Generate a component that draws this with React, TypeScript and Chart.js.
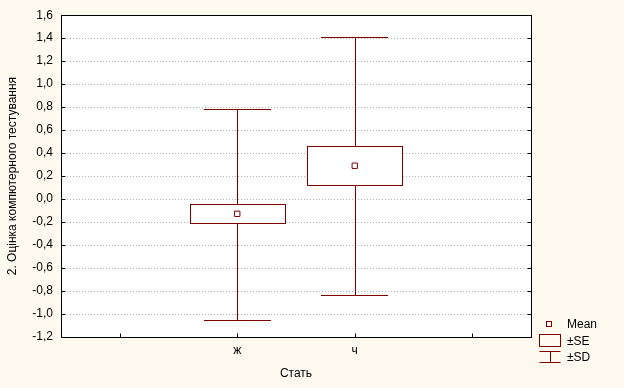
import React, { useEffect, useRef } from "react";
import { Chart, registerables } from "chart.js";
Chart.register(...registerables);

// ---- data ----
const categories = ["ж", "ч"];
const means = [-0.128, 0.29];
const seLow = [-0.211, 0.122];
const seHigh = [-0.045, 0.458];
const sdLow = [-1.048, -0.833];
const sdHigh = [0.787, 1.406];
const yTickValues = [-1.2, -1.0, -0.8, -0.6, -0.4, -0.2, 0.0, 0.2, 0.4, 0.6, 0.8, 1.0, 1.2, 1.4, 1.6];
const xTickValues = [-1, 0, 1, 2];
const legendLabels = ["Mean", "±SE", "±SD"];

const FONT = "'Liberation Sans', Arial, sans-serif";
const RED = "#800000";
const BG = "#FFFAF0";
const BOX_HALF = 0.405;
const CAP_HALF = 0.284;

const boxPlugin = {
  id: "boxPlugin",
  beforeDraw(chart: any) {
    const { ctx, chartArea: a } = chart;
    ctx.save();
    ctx.fillStyle = BG;
    ctx.fillRect(0, 0, chart.width, chart.height);
    ctx.fillStyle = "#ffffff";
    ctx.fillRect(a.left, a.top, a.right - a.left, a.bottom - a.top);
    ctx.restore();
  },
  beforeDatasetsDraw(chart: any) {
    const { ctx, chartArea: a, scales } = chart;
    const xs = scales.x;
    const ys = scales.y;
    ctx.save();
    // dotted grid
    ctx.strokeStyle = "#b4b4b4";
    ctx.lineWidth = 1;
    ctx.setLineDash([1, 2]);
    yTickValues.forEach((v) => {
      if (v === yTickValues[0] || v === yTickValues[yTickValues.length - 1]) return;
      const y = Math.round(ys.getPixelForValue(v)) + 0.5;
      ctx.beginPath();
      ctx.moveTo(a.left, y);
      ctx.lineTo(a.right, y);
      ctx.stroke();
    });
    ctx.setLineDash([]);
    // whiskers and boxes
    ctx.strokeStyle = RED;
    categories.forEach((_, i) => {
      const cx = Math.round(xs.getPixelForValue(i)) + 0.5;
      const capL = Math.round(xs.getPixelForValue(i - CAP_HALF));
      const capR = Math.round(xs.getPixelForValue(i + CAP_HALF));
      const yHi = Math.round(ys.getPixelForValue(sdHigh[i])) + 0.5;
      const yLo = Math.round(ys.getPixelForValue(sdLow[i])) + 0.5;
      ctx.beginPath();
      ctx.moveTo(cx, yHi);
      ctx.lineTo(cx, yLo);
      ctx.moveTo(capL, yHi);
      ctx.lineTo(capR, yHi);
      ctx.moveTo(capL, yLo);
      ctx.lineTo(capR, yLo);
      ctx.stroke();
      const bl = Math.round(xs.getPixelForValue(i - BOX_HALF)) + 0.5;
      const br = Math.round(xs.getPixelForValue(i + BOX_HALF)) + 0.5;
      const bt = Math.round(ys.getPixelForValue(seHigh[i])) + 0.5;
      const bb = Math.round(ys.getPixelForValue(seLow[i])) + 0.5;
      ctx.fillStyle = "#ffffff";
      ctx.fillRect(bl, bt, br - bl, bb - bt);
      ctx.strokeRect(bl, bt, br - bl, bb - bt);
    });
    ctx.restore();
  },
  afterDatasetsDraw(chart: any) {
    const { ctx, chartArea: a, scales } = chart;
    const xs = scales.x;
    const ys = scales.y;
    ctx.save();
    ctx.strokeStyle = "#000000";
    ctx.lineWidth = 1;
    const L = Math.round(a.left) + 0.5;
    const R = Math.round(a.right) + 0.5;
    const T = Math.round(a.top) + 0.5;
    const B = Math.round(a.bottom) + 0.5;
    ctx.strokeRect(L, T, R - L, B - T);
    ctx.beginPath();
    yTickValues.forEach((v) => {
      const y = Math.round(ys.getPixelForValue(v)) + 0.5;
      ctx.moveTo(L, y);
      ctx.lineTo(L + 4, y);
      ctx.moveTo(R, y);
      ctx.lineTo(R - 4, y);
    });
    xTickValues.forEach((v) => {
      const x = Math.round(xs.getPixelForValue(v)) + 0.5;
      ctx.moveTo(x, B);
      ctx.lineTo(x, B - 4);
    });
    ctx.stroke();

    // legend
    const lx = 539.5;
    const lw = 21;
    const tx = 567;
    ctx.strokeStyle = RED;
    ctx.fillStyle = "#ffffff";
    // mean marker
    ctx.fillRect(546.5, 321.5, 5, 5);
    ctx.strokeRect(546.5, 321.5, 5, 5);
    // SE box
    ctx.strokeRect(lx, 334.5, lw, 12);
    // SD symbol
    ctx.beginPath();
    ctx.moveTo(lx, 351.5);
    ctx.lineTo(lx + lw, 351.5);
    ctx.moveTo(550.5, 351.5);
    ctx.lineTo(550.5, 362.5);
    ctx.moveTo(lx, 362.5);
    ctx.lineTo(lx + lw, 362.5);
    ctx.stroke();
    ctx.fillStyle = "#000000";
    ctx.font = `12px ${FONT}`;
    ctx.textAlign = "left";
    ctx.textBaseline = "middle";
    ctx.fillText(legendLabels[0], tx, 324.5);
    ctx.fillText(legendLabels[1], tx, 341.5);
    ctx.fillText(legendLabels[2], tx, 357.5);
    ctx.restore();
  },
};

export default function App() {
  const ref = useRef<HTMLCanvasElement | null>(null);
  useEffect(() => {
    document.body.style.margin = "0";
    const canvas = ref.current!;
    const chart = new Chart(canvas, {
      type: "scatter",
      data: {
        datasets: [
          {
            label: "Mean",
            data: categories.map((_, i) => ({ x: i, y: means[i] })),
            pointStyle: "rect",
            pointRadius: 3.8,
            pointBorderWidth: 1,
            pointBackgroundColor: "#ffffff",
            pointBorderColor: RED,
          } as any,
        ],
      },
      options: {
        responsive: false,
        animation: false,
        devicePixelRatio: 1,
        layout: { padding: { left: 0, top: 11, right: 93, bottom: 0 } },
        plugins: { legend: { display: false }, tooltip: { enabled: false } },
        scales: {
          x: {
            type: "linear",
            min: -1.5,
            max: 2.5,
            afterBuildTicks: (s: any) => {
              s.ticks = xTickValues.map((v) => ({ value: v }));
            },
            afterFit: (s: any) => {
              s.height = 51;
            },
            grid: { display: false, drawTicks: false, tickLength: 0 },
            border: { display: false },
            ticks: {
              autoSkip: false,
              padding: 6,
              color: "#000000",
              font: { family: FONT, size: 12 },
              callback: (v: any) => (categories[v as number] !== undefined && Number.isInteger(v) ? categories[v as number] : ""),
            },
            title: {
              display: true,
              text: "Стать",
              color: "#000000",
              font: { family: FONT, size: 12 },
              padding: { top: 0, bottom: 7 },
            },
          },
          y: {
            type: "linear",
            min: -1.2,
            max: 1.6,
            afterBuildTicks: (s: any) => {
              s.ticks = yTickValues.map((v) => ({ value: v }));
            },
            afterFit: (s: any) => {
              s.width = 61;
            },
            grid: { display: false, drawTicks: false, tickLength: 0 },
            border: { display: false },
            ticks: {
              autoSkip: false,
              padding: 8,
              color: "#000000",
              font: { family: FONT, size: 12 },
              callback: (v: any) => {
                const n = Math.round((v as number) * 10) / 10;
                const s = Math.abs(n).toFixed(1).replace(".", ",");
                return n < 0 ? "-" + s : s;
              },
            },
            title: {
              display: true,
              text: "2. Оцінка компютерного тестування",
              color: "#000000",
              font: { family: FONT, size: 12 },
              padding: { top: 5, bottom: 0 },
            },
          },
        },
      },
      plugins: [boxPlugin],
    } as any);
    return () => chart.destroy();
  }, []);
  return (
    <div style={{ width: 624, height: 388 }}>
      <canvas ref={ref} width={624} height={388} style={{ display: "block", width: 624, height: 388 }} />
    </div>
  );
}
